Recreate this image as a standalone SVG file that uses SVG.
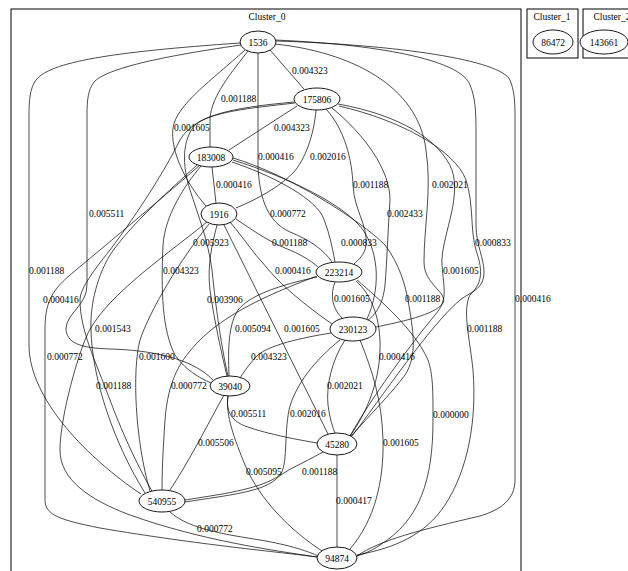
<svg xmlns="http://www.w3.org/2000/svg" width="628" height="571" viewBox="0 0 628 571">
<style>
.cl{fill:none;stroke:#000;stroke-width:1}
.n ellipse{fill:#fff;stroke:#000;stroke-width:0.9}
.e path{fill:none;stroke:#000;stroke-width:0.7}
text{font-family:"Liberation Serif","Times New Roman",serif;font-size:9.5px;fill:#000}
.c{text-anchor:middle}
</style>
<rect width="628" height="571" fill="#fff"/>
<g id="cluster_0"><rect class="cl" x="11" y="9" width="510" height="600"/><text class="c" x="267" y="20">Cluster_0</text></g>
<g id="cluster_1"><rect class="cl" x="527" y="9" width="51" height="49"/><text class="c" x="552" y="20">Cluster_1</text></g>
<g id="cluster_2"><rect class="cl" x="583" y="9" width="60" height="49"/><text class="c" x="612" y="20">Cluster_2</text></g>
<g class="e" id="edges">
<path d="M270,50 L304,89"/>
<path d="M248,51 C232,72 212,95 210,118 L210,147"/>
<path d="M245,50 C212,80 176,105 173,128 C170,150 185,182 206,206"/>
<path d="M258,53 L258,168 C260,200 268,222 290,232 C310,240 324,250 332,262"/>
<path d="M275,44 C350,52 418,85 426,150 C432,190 424,225 424,262 C424,285 448,292 443,303 C435,315 400,322 376,327"/>
<path d="M241,45 C150,58 105,70 94,82 C88,90 87,100 87,115 L87,285 C87,305 67,313 66,328 C66,343 80,348 110,349 C150,350 192,358 213,380"/>
<path d="M275,40 C390,45 462,62 470,85 C475,97 476,110 476,130 L476,225 C476,245 484,258 484,272 C484,290 470,292 460,300 C430,325 380,400 352,436"/>
<path d="M240,43 C110,52 50,62 36,80 C30,88 29,100 29,115 L29,345 C29,400 90,460 141,494"/>
<path d="M276,41 C400,45 500,60 510,80 C514,90 515,100 515,115 L515,480 C515,500 500,510 480,516 C420,530 380,540 357,556"/>
<path d="M297,106 L229,150"/>
<path d="M316,110 C314,135 305,160 293,173 C280,186 260,198 236,208"/>
<path d="M326,109 C345,130 352,160 353,185 C354,210 368,225 366,245 C365,255 358,260 354,264"/>
<path d="M332,108 C365,135 390,170 390,200 C388,230 387,260 385,285 C383,305 375,315 368,320"/>
<path d="M295,103 C250,108 210,112 195,125 C182,140 182,165 190,190 C198,215 208,240 212,270 C216,310 222,350 228,376"/>
<path d="M338,104 C400,115 440,140 452,170 C462,200 440,240 442,265 C444,290 448,300 435,315 C410,345 370,400 350,436"/>
<path d="M294,102 C230,108 195,115 180,140 C165,170 140,210 110,250 C90,275 80,290 80,300 C80,330 95,360 110,400 C125,440 140,470 152,491"/>
<path d="M339,106 C400,120 455,150 466,180 C474,205 470,230 476,250 C482,268 484,282 470,295 C462,310 470,340 473,370 C477,420 468,470 445,505 C425,535 395,548 357,555"/>
<path d="M212,167 L216,203"/>
<path d="M232,162 C270,175 310,195 322,215 C328,228 332,245 335,262"/>
<path d="M233,160 C290,178 345,205 363,230 C380,255 380,290 367,319"/>
<path d="M201,166 C185,185 165,215 163,245 C161,290 162,330 175,355 C185,370 200,378 211,383"/>
<path d="M233,158 C290,175 360,220 385,245 C400,265 405,285 408,300 C413,330 418,355 405,375 C390,395 370,415 351,436"/>
<path d="M197,165 C170,190 130,225 110,255 C95,280 90,310 91,330 C92,380 115,445 145,493"/>
<path d="M200,165 C160,200 100,250 70,275 C50,292 45,305 45,330 L45,500 C45,515 60,520 100,528 C200,545 280,552 317,557"/>
<path d="M236,219 C255,232 270,242 285,248 C300,254 310,260 318,267"/>
<path d="M230,222 C245,240 255,255 262,262 C280,285 305,305 332,324"/>
<path d="M217,225 C212,245 207,265 210,290 C214,320 222,355 227,376"/>
<path d="M224,225 L328,434"/>
<path d="M209,224 C180,260 150,310 140,340 C132,370 135,440 150,491"/>
<path d="M207,222 C160,260 100,300 85,340 C75,365 60,420 60,450 C60,480 90,500 130,515 C200,540 270,550 317,557"/>
<path d="M335,282 C330,295 332,308 342,318"/>
<path d="M317,277 C280,285 250,295 238,310 C228,325 228,350 229,376"/>
<path d="M356,281 C372,295 381,320 380,350 C379,385 365,415 350,436"/>
<path d="M317,276 C280,290 230,310 200,340 C180,360 168,380 165,420 C163,450 162,470 162,490"/>
<path d="M357,280 C380,300 415,330 428,360 C433,375 433,390 433,420 C433,480 420,520 380,545 C370,552 360,555 357,556"/>
<path d="M331,333 C300,338 270,345 258,355 C248,365 242,375 240,378"/>
<path d="M345,340 C332,360 326,385 328,405 C330,420 333,428 335,433"/>
<path d="M340,340 C315,360 295,385 289,410 C284,435 288,465 280,475 C260,490 215,495 185,500"/>
<path d="M360,340 C372,370 382,400 383,440 C384,480 375,520 350,549"/>
<path d="M228,396 C226,410 230,420 245,426 C270,435 300,440 317,443"/>
<path d="M224,395 C210,420 190,460 170,490"/>
<path d="M228,396 C225,415 235,440 245,465 C260,500 290,530 322,551"/>
<path d="M323,452 C300,465 285,470 275,480 C260,492 230,495 185,502"/>
<path d="M337,455 L337,547"/>
<path d="M170,512 C190,530 230,535 260,540 C290,545 310,552 318,556"/>
</g>
<g id="edge-labels">
<text x="292" y="74">0.004323</text>
<text x="221" y="102">0.001188</text>
<text x="174" y="131">0.001605</text>
<text x="274" y="131">0.004323</text>
<text x="258" y="160">0.000416</text>
<text x="310" y="160">0.002016</text>
<text x="216" y="188">0.000416</text>
<text x="353" y="188">0.001188</text>
<text x="432" y="188">0.002021</text>
<text x="270" y="217">0.000772</text>
<text x="89" y="217">0.005511</text>
<text x="387" y="217">0.002433</text>
<text x="193" y="246">0.005923</text>
<text x="272" y="246">0.001188</text>
<text x="341" y="246">0.000833</text>
<text x="475" y="246">0.000833</text>
<text x="29" y="274">0.001188</text>
<text x="163" y="274">0.004323</text>
<text x="275" y="274">0.000416</text>
<text x="443" y="274">0.001605</text>
<text x="43" y="303">0.000416</text>
<text x="207" y="303">0.003906</text>
<text x="334" y="302">0.001605</text>
<text x="405" y="302">0.001188</text>
<text x="515" y="302">0.000416</text>
<text x="95" y="332">0.001543</text>
<text x="235" y="332">0.005094</text>
<text x="284" y="332">0.001605</text>
<text x="467" y="332">0.001188</text>
<text x="47" y="360">0.000772</text>
<text x="139" y="360">0.001600</text>
<text x="251" y="360">0.004323</text>
<text x="379" y="360">0.000416</text>
<text x="96" y="389">0.001188</text>
<text x="171" y="389">0.000772</text>
<text x="327" y="389">0.002021</text>
<text x="231" y="417">0.005511</text>
<text x="290" y="417">0.002016</text>
<text x="433" y="418">0.000000</text>
<text x="198" y="446">0.005506</text>
<text x="383" y="446">0.001605</text>
<text x="246" y="475">0.005095</text>
<text x="302" y="475">0.001188</text>
<text x="336" y="504">0.000417</text>
<text x="197" y="532">0.000772</text>
</g>
<g class="n" id="n1536"><ellipse cx="258" cy="42" rx="18" ry="11"/><text class="c" x="258" y="45.5">1536</text></g>
<g class="n" id="n175806"><ellipse cx="317" cy="99" rx="23" ry="11"/><text class="c" x="317" y="102.5">175806</text></g>
<g class="n" id="n183008"><ellipse cx="211" cy="157" rx="22" ry="10"/><text class="c" x="211" y="160.5">183008</text></g>
<g class="n" id="n1916"><ellipse cx="219" cy="214" rx="18" ry="11"/><text class="c" x="219" y="217.5">1916</text></g>
<g class="n" id="n223214"><ellipse cx="339" cy="272" rx="23" ry="10"/><text class="c" x="339" y="275.5">223214</text></g>
<g class="n" id="n230123"><ellipse cx="353" cy="329" rx="23" ry="12"/><text class="c" x="353" y="332.5">230123</text></g>
<g class="n" id="n39040"><ellipse cx="230" cy="386" rx="20" ry="10"/><text class="c" x="230" y="389.5">39040</text></g>
<g class="n" id="n45280"><ellipse cx="337" cy="444" rx="20" ry="11"/><text class="c" x="337" y="447.5">45280</text></g>
<g class="n" id="n540955"><ellipse cx="162" cy="501" rx="23" ry="11"/><text class="c" x="162" y="504.5">540955</text></g>
<g class="n" id="n94874"><ellipse cx="337" cy="558" rx="20" ry="11"/><text class="c" x="337" y="561.5">94874</text></g>
<g class="n" id="n86472"><ellipse cx="553" cy="42" rx="20" ry="12"/><text class="c" x="553" y="45.5">86472</text></g>
<g class="n" id="n143661"><ellipse cx="604" cy="42" rx="24" ry="12"/><text class="c" x="604" y="45.5">143661</text></g>
</svg>
